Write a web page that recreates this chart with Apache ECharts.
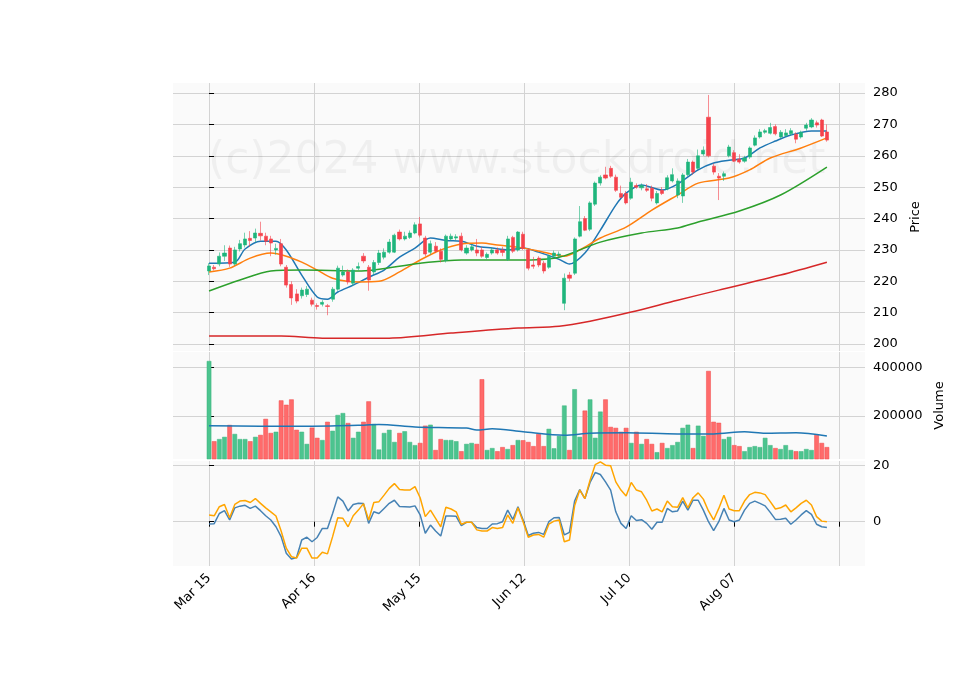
<!DOCTYPE html>
<html>
<head>
<meta charset="utf-8">
<script src="https://cdn.jsdelivr.net/npm/echarts@6/dist/echarts.min.js"></script>
<style>html,body{margin:0;padding:0;background:#fff}#main{width:960px;height:690px}</style>
</head>
<body>
<div id="main"></div>
<script>
var tickLabels = ['Mar 15', 'Apr 16', 'May 15', 'Jun 12', 'Jul 10', 'Aug 07', ''];
var tickIdx = [0, 20.4, 40.8, 61.2, 81.6, 102, 122.4];
// [open, close, low, high]
var candles = [
  [223.3,224.9,222.0,225.8],[224.5,224.0,223.5,225.2],[225.5,228.0,224.8,229.2],[228.0,229.0,226.5,231.5],
  [230.6,225.5,224.6,231.4],[225.5,230.0,225.0,231.0],[230.3,232.0,229.5,233.2],[231.6,233.5,230.8,235.5],
  [233.7,233.0,231.0,236.0],[233.8,235.4,232.5,236.8],[235.3,234.5,233.0,239.0],[234.4,232.8,231.5,235.5],
  [233.5,232.2,228.0,234.5],[230.0,230.5,228.5,232.0],[232.0,225.5,224.8,233.5],[224.5,218.8,218.0,225.2],
  [219.0,214.7,212.5,220.0],[216.0,213.7,213.0,217.5],[215.4,217.2,214.5,218.0],[215.8,217.5,215.0,218.5],
  [214.0,212.7,212.0,214.8],[212.3,212.0,211.0,213.0],[212.7,213.3,212.0,214.0],[212.2,212.0,209.2,212.8],
  [214.3,217.5,213.5,218.2],[217.5,224.2,217.0,225.0],[222.0,223.0,221.5,225.0],[223.0,219.8,219.0,223.8],
  [219.4,223.6,218.5,224.2],[224.2,224.7,223.5,226.0],[228.0,226.5,225.8,229.0],[224.5,220.4,217.0,225.2],
  [223.0,226.0,222.0,226.8],[226.0,229.0,225.2,230.0],[227.7,229.3,227.0,230.5],[229.3,232.5,228.8,233.5],
  [229.3,234.7,229.0,235.2],[235.7,233.5,233.0,236.5],[233.5,234.4,233.0,235.8],[234.0,235.4,233.5,236.2],
  [235.4,238.0,235.0,238.8],[238.3,234.7,234.0,240.5],[233.8,228.7,228.0,234.5],[229.3,232.0,228.5,233.0],
  [231.2,229.6,229.0,232.5],[229.6,227.0,226.0,230.5],[226.7,234.4,226.0,234.9],[233.5,234.4,233.0,235.2],
  [233.8,234.2,233.0,235.0],[234.4,230.0,229.5,235.5],[229.0,230.6,228.5,231.5],[230.0,231.0,229.5,231.8],
  [230.0,229.0,228.0,233.5],[230.0,228.0,227.5,231.0],[227.6,228.6,227.0,229.2],[229.0,230.0,228.5,230.8],
  [230.0,229.0,228.5,230.8],[230.0,229.2,228.0,231.0],[227.0,233.5,226.5,234.5],[234.0,229.6,229.0,234.5],
  [230.0,235.7,229.5,236.0],[235.0,230.5,230.0,235.8],[230.0,224.2,223.5,230.5],[225.2,224.8,224.0,227.8],
  [227.4,225.2,224.5,228.0],[225.8,223.3,222.5,226.5],[224.5,228.0,224.0,228.5],[228.0,229.0,227.5,229.8],
  [228.3,228.7,227.8,229.5],[213.0,221.0,210.8,222.5],[222.0,221.0,220.0,223.0],[222.6,233.5,222.0,234.0],
  [234.4,239.0,234.0,244.0],[240.0,236.3,236.0,240.8],[236.6,245.0,236.0,245.5],[244.6,251.3,244.0,251.8],
  [251.3,253.2,250.5,253.8],[253.9,252.9,252.5,256.5],[256.0,253.5,253.0,256.8],[253.2,249.0,248.5,254.0],
  [248.0,246.8,246.5,250.5],[248.0,245.0,244.5,248.8],[246.5,251.6,246.0,253.0],[250.5,250.0,249.5,251.2],
  [249.8,250.5,249.0,251.2],[249.5,249.0,248.5,251.0],[249.7,246.5,245.5,250.5],[245.0,248.0,244.5,248.8],
  [249.0,248.0,247.5,250.0],[249.4,253.0,249.0,253.8],[252.0,254.0,251.5,256.0],[247.5,252.0,246.5,252.8],
  [247.2,253.9,245.0,254.5],[254.0,258.0,253.5,259.0],[258.0,254.8,254.0,258.5],[256.0,260.0,255.5,262.0],
  [260.6,261.8,260.0,263.0],[272.3,260.0,259.5,279.4],[256.7,254.8,254.0,257.5],[253.5,252.9,245.9,254.5],
  [253.5,254.3,252.0,255.0],[260.0,262.8,259.5,263.5],[261.0,258.3,258.0,261.8],[258.9,258.0,257.5,260.5],
  [258.3,259.3,257.8,260.0],[259.6,262.5,259.0,263.0],[263.4,265.7,263.0,266.5],[266.0,267.6,265.5,268.5],
  [267.5,268.0,267.0,268.6],[267.2,269.0,266.8,270.5],[269.3,267.0,266.5,270.0],[266.0,267.5,265.5,268.2],
  [266.5,267.3,266.0,268.5],[267.0,268.0,266.5,268.8],[266.9,265.3,264.0,267.5],[266.0,267.5,265.5,268.0],
  [268.8,269.8,268.0,270.5],[269.2,271.4,268.8,272.0],[270.5,269.8,269.0,271.2],[271.4,266.3,266.0,271.8],
  [267.6,265.0,264.5,270.0]
];
var volumes = [
  426000,96000,105000,114000,163000,126000,105000,105000,96000,114000,122000,188000,130000,135000,264000,246000,
  268000,143000,135000,85000,152000,110000,101000,176000,139000,204000,212000,171000,110000,135000,176000,260000,
  167000,62000,130000,143000,93000,130000,137000,93000,80000,89000,160000,164000,60000,105000,101000,101000,
  96000,55000,85000,89000,85000,351000,60000,68000,55000,72000,64000,80000,101000,
  100000,93000,76000,126000,76000,147000,67000,118000,243000,60000,310000,114000,222000,268000,110000,218000,
  268000,155000,151000,135000,151000,89000,135000,85000,105000,85000,51000,89000,68000,80000,93000,151000,
  164000,68000,160000,118000,385000,176000,172000,105000,114000,80000,76000,55000,72000,76000,72000,110000,
  80000,68000,64000,80000,60000,55000,55000,64000,60000,122000,89000,72000
];
var volMa = [[0,160000],[10,158000],[20,158000],[30,162000],[33,165000],[40,155000],[50,150000],[52,142000],
  [55,147000],[61,135000],[69,121000],[74,129000],[81,131000],[91,126000],[98,126000],[104,135000],[108,129000],
  [114,131000],[120,118000]];
var maBlue = [[0,225.8],[5,226.1],[7,230.3],[10,232.8],[13,232.8],[15,230],[18,222],[21,215],[23,214.3],[25,216.6],
  [28,218.8],[31,221.3],[34,223.6],[37,227.7],[40,230.6],[43,233.8],[46,233],[49,232.8],[52,231.2],[55,230.6],
  [58,230],[61,230.6],[64,229.3],[68,227],[70,225.5],[73,229],[76,236.3],[79,244.3],[81,248.1],[84,250.7],
  [88,249.1],[91,251],[95,255.5],[98,257.7],[101,258.6],[104,259.3],[107,262.5],[110,264.7],[113,266.6],
  [117,267.9],[120,267.9]];
var maOrange = [[0,223],[4,224.2],[8,227.4],[12,229],[15,228],[18,226.1],[21,223.6],[24,221],[29,219.8],[33,220],
  [37,223],[41,226.8],[45,230],[49,231.9],[53,232.2],[56,231.6],[60,230.9],[65,229.3],[69,228],[72,230],
  [76,233.8],[81,237.3],[86,242.7],[91,247.5],[95,251.3],[101,252.9],[105,255.5],[109,259.3],[115,262.5],[120,265.7]];
var maGreen = [[0,216.9],[6,220.4],[12,223.3],[18,223.6],[29,223.3],[41,225.8],[49,226.8],[60,226.8],[68,227.7],
  [76,232.5],[84,235.4],[91,237],[95,238.9],[103,242.4],[111,247.5],[120,256.4]];
var maRed = [[0,202.6],[14,202.6],[22,201.9],[35,201.9],[47,203.5],[60,205.1],[68,205.7],[74,207.3],[82,210.2],
  [91,214],[99,217.2],[111,222],[120,226.1]];
var oscBlue = [-0.8,-0.7,2.9,3.9,0.6,4.9,5.5,5.8,4.7,5.5,3.9,2.1,0.6,-1.8,-5.3,-11.2,-13.2,-12.7,-6.5,-5.5,
  -7.1,-5.6,-2.4,-2.4,2.9,8.8,7.3,3.8,6.1,6.5,6.4,-0.6,3.5,2.9,4.7,6.5,7.6,5.4,5.3,5.2,
  5.6,2.4,-4.1,-1.2,-3.3,-5.1,2,2,1.9,-1.4,-0.2,-0.2,-2.1,-2.4,-2.4,-0.8,-0.7,0,4.1,0.8,
  5.3,0.6,-4.9,-4.1,-3.8,-4.5,0,1.4,1.5,-4.7,-3.8,7.3,11.4,8.2,13.9,17.4,16.7,14.1,11.2,3.5,
  -0.6,-2.4,2.1,0.4,0.7,-0.6,-2.7,-0.2,-0.2,4.7,3.5,3.8,7.3,4.1,7.6,7.6,4.1,0,-3.2,0,
  4.7,0.6,0,0.6,4.1,6.5,7.3,6.5,5.6,3.3,0.8,0.9,1.2,-0.9,0.6,2.4,3.9,2.6,-0.9,-1.8,-2.1];
var oscOrange = [2.4,2.1,5.3,6.1,1.4,6.1,7.3,7.5,6.8,8.2,6.5,4.9,3.5,2,-3.3,-9.4,-12.4,-12.9,-9.4,-9.4,
  -12.9,-12.9,-10.8,-11.4,-5.3,1.4,1.2,-1.8,2.1,4.1,6.4,0.6,6.8,7.1,9.4,11.8,13.5,11.4,11.2,11.2,
  12.4,8.5,1.8,4.1,1.2,-1.8,5.1,4.5,3.5,-0.9,-0.2,-0.2,-2.9,-3.3,-3.3,-2.1,-2.4,-2.1,2.4,-0.6,
  4.9,0,-5.5,-4.7,-4.5,-5.5,-0.9,0.2,0.6,-7.1,-6.5,5.6,11.2,8.2,14.7,20.2,21.2,20,19.8,14.1,
  11.2,9.1,13.9,11.2,10.6,7.6,3.8,4.5,3.5,7.3,5.3,5.1,8.5,4.9,8.5,10.2,8,3.8,0.6,4.7,
  9.4,4.5,3.9,3.9,7.3,9.6,10.4,10.2,9.6,7.1,4.5,4.9,5.9,3.5,4.9,6.5,7.6,5.9,1.8,0.2,0];

var UP = '#1eb57c', DOWN = '#f5424b';
var chart = echarts.init(document.getElementById('main'));
var L = 173, W = 692;
var grids = [
  {left: L, width: W, top: 83, height: 268},
  {left: L, width: W, top: 352, height: 107},
  {left: L, width: W, top: 461, height: 105}
];
var gridBg = {show: true, backgroundColor: '#fafafa', borderWidth: 0};
var txt = {color: '#000', fontSize: 13, fontFamily: 'DejaVu Sans'};
var split = {show: true, lineStyle: {color: '#d3d3d3', width: 1}};

function xAx(gi, labels) {
  return {
    type: 'value', gridIndex: gi, min: -7, max: 127.4,
    axisLine: {show: false},
    axisTick: {show: labels, customValues: tickIdx, length: 5, lineStyle: {color: '#000'}},
    axisLabel: labels ? Object.assign({customValues: tickIdx, rotate: 45, margin: 10,
      formatter: function (v) { var k = tickIdx.indexOf(v); return k >= 0 ? tickLabels[k] : ''; }}, txt) : {show: false, customValues: tickIdx},
    splitLine: split
  };
}
function yAx(gi, min, max, ticks, name, fmt) {
  return {
    type: 'value', gridIndex: gi, position: 'right', min: min, max: max, scale: true,
    name: name, nameLocation: 'middle', nameRotate: 90, nameGap: name === 'Price' ? 40 : 60,
    nameTextStyle: txt,
    axisLine: {show: false},
    axisTick: {show: true, customValues: ticks, length: 5, lineStyle: {color: '#000'}},
    axisLabel: Object.assign({customValues: ticks, margin: 8, formatter: fmt || '{value}'}, txt),
    splitLine: split
  };
}
function pairs(arr) { return arr.map(function (v, i) { return [i, v]; }); }
function line(data, color, xi, yi, w, sm) {
  return {type: 'line', data: data, xAxisIndex: xi, yAxisIndex: yi, showSymbol: false, smooth: sm || false,
    lineStyle: {color: color, width: w || 1.5}, z: 3, silent: true};
}

chart.setOption({
  animation: false,
  backgroundColor: '#fff',
  grid: grids.map(function (g) { return Object.assign({}, gridBg, g); }),
  graphic: [{type: 'text', left: 208, top: 140, z: 1, silent: true,
    style: {text: '(c)2024 www.stockdroid.net', fontSize: 44, fontFamily: 'DejaVu Sans', fill: 'rgba(0,0,0,0.045)'}}],
  xAxis: [xAx(0, false), xAx(1, false), xAx(2, true)],
  yAxis: [
    yAx(0, 197.8, 283.2, [200, 210, 220, 230, 240, 250, 260, 270, 280], 'Price'),
    yAx(1, 23000, 463000, [200000, 400000], 'Volume', function (v) { return String(v); }),
    yAx(2, -15.7, 21.5, [0, 20], '')
  ],
  series: [
    {type: 'candlestick', xAxisIndex: 0, yAxisIndex: 0, barWidth: 3.6,
      data: candles.map(function (c, i) { return [i, c[0], c[1], c[2], c[3]]; }),
      encode: {x: 0, y: [1, 2, 3, 4]},
      itemStyle: {color: UP, color0: DOWN, borderColor: UP, borderColor0: DOWN, borderWidth: 0.6},
      z: 4},
    line(maBlue, '#1f77b4', 0, 0, 1.5, 0.3),
    line(maOrange, '#ff7f0e', 0, 0, 1.5, 0.3),
    line(maGreen, '#2ca02c', 0, 0, 1.5, 0.3),
    line(maRed, '#d62728', 0, 0, 1.5, 0.3),
    {type: 'bar', xAxisIndex: 1, yAxisIndex: 1, barWidth: 4.6,
      data: volumes.map(function (v, i) {
        var up = candles[i][1] >= candles[i][0];
        return {value: [i, v], itemStyle: {color: up ? '#4cc48f' : '#ff6b6b', borderColor: up ? '#3cb47f' : '#f04848', borderWidth: 0.5}};
      })},
    line(volMa, '#1f77b4', 1, 1, 1.5, 0.3),
    line(pairs(oscBlue), '#4682b4', 2, 2),
    line(pairs(oscOrange), '#ffa500', 2, 2)
  ]
});
</script>
</body>
</html>
